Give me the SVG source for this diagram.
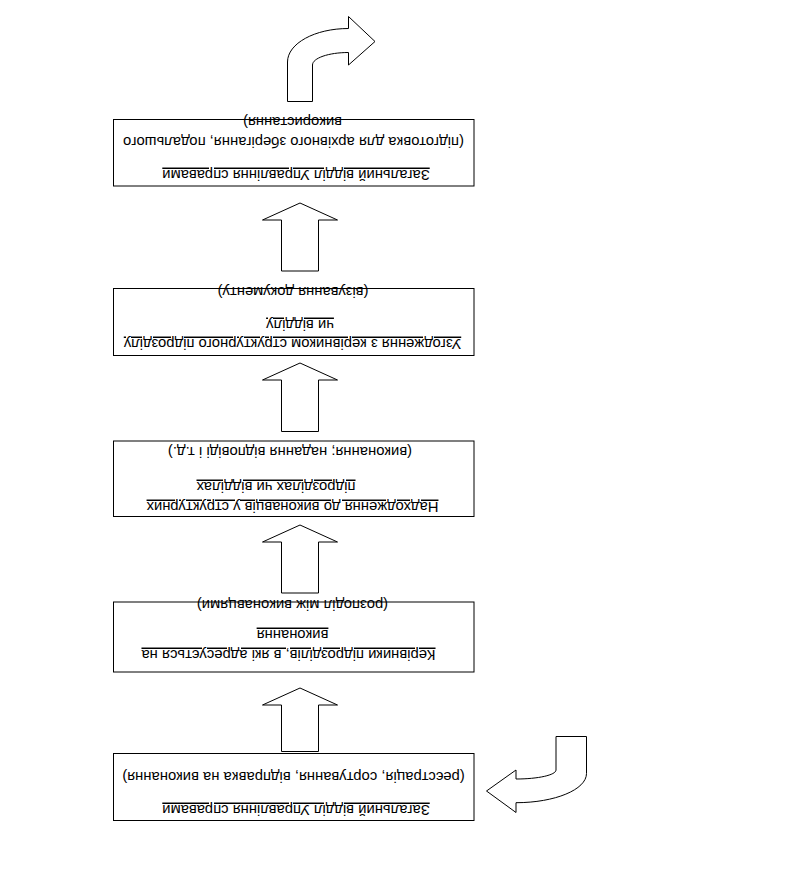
<svg xmlns="http://www.w3.org/2000/svg" width="799" height="890" viewBox="0 0 799 890">
<style>
.box{fill:#fff;stroke:#000;stroke-width:1}
.arr{fill:#fff;stroke:#000;stroke-width:1;stroke-linejoin:miter}
.t{font-family:"Liberation Sans",Arial,sans-serif;font-size:14.8px;fill:#000;text-anchor:middle}
.u{text-decoration:underline}
</style>
<rect width="799" height="890" fill="#fff"/>
<g id="connectors">
<path class="arr" d="M 287.5 101.5 L 287.5 62 C 287.5 43.5 314.8 28.5 348.5 28.5 L 348.5 16.5 L 375 41.5 L 348.5 65 L 348.5 52.5 C 328.6 52.5 312.5 58.1 312.5 65 L 312.5 101.5 Z"/>
<polygon class="arr" points="300,203 337.5,220 318.5,220 318.5,271 281.5,271 281.5,220 262.5,220"/>
<polygon class="arr" points="300,363 337.5,380 318.5,380 318.5,431.5 281.5,431.5 281.5,380 262.5,380"/>
<polygon class="arr" points="300,525 337.5,542 318.5,542 318.5,593 281.5,593 281.5,542 262.5,542"/>
<polygon class="arr" points="300,688 337.5,705 318.5,705 318.5,751.5 281.5,751.5 281.5,705 262.5,705"/>
<path class="arr" d="M 556 736.5 L 586.5 736.5 L 586.5 773.5 C 586.5 789.6 554.9 802.7 516 802.7 L 516 812.5 L 486.5 791 L 516 770 L 516 779 C 538.1 779 556 775 556 770 Z"/>
</g>
<g id="node-archive">
<rect class="box" x="113.5" y="119.5" width="360.5" height="66.5"/>
<text class="t u" x="296" y="170" transform="rotate(180 296 170)">Загальний відділ Управління справами</text>
<text class="t" x="293.5" y="136.5" transform="rotate(180 293.5 136.5)">(підготовка для архівного зберігання, подальшого</text>
<text class="t" x="292.5" y="116.5" transform="rotate(180 292.5 116.5)">використання)</text>
</g>
<g id="node-approval">
<rect class="box" x="113.5" y="288.5" width="360.5" height="67"/>
<text class="t u" x="292.5" y="339" transform="rotate(180 292.5 339)">Узгодження з керівником структурного підрозділу</text>
<text class="t u" x="300" y="320" transform="rotate(180 300 320)">чи відділу</text>
<text class="t" x="293" y="286.5" transform="rotate(180 293 286.5)">(візування документу)</text>
</g>
<g id="node-executors">
<rect class="box" x="113.5" y="441" width="360.5" height="75.5"/>
<text class="t u" x="292.5" y="502" transform="rotate(180 292.5 502)">Надходження до виконавців у структурних</text>
<text class="t u" x="276" y="482" transform="rotate(180 276 482)">підрозділах чи відділах</text>
<text class="t" x="290" y="446.5" transform="rotate(180 290 446.5)">(виконання; надання відповіді і т.д.)</text>
</g>
<g id="node-heads">
<rect class="box" x="113.5" y="602" width="360.5" height="70"/>
<text class="t u" x="288.5" y="650" transform="rotate(180 288.5 650)">Керівники підрозділів, в які адресується на</text>
<text class="t u" x="292.5" y="630" transform="rotate(180 292.5 630)">виконання</text>
<text class="t" x="292.5" y="599.5" transform="rotate(180 292.5 599.5)">(розподіл між виконавцями)</text>
</g>
<g id="node-registration">
<rect class="box" x="113.5" y="753.5" width="360.5" height="67"/>
<text class="t u" x="296" y="805" transform="rotate(180 296 805)">Загальний відділ Управління справами</text>
<text class="t" x="293.5" y="771.5" transform="rotate(180 293.5 771.5)">(реєстрація, сортування, відправка на виконання)</text>
</g>
</svg>
